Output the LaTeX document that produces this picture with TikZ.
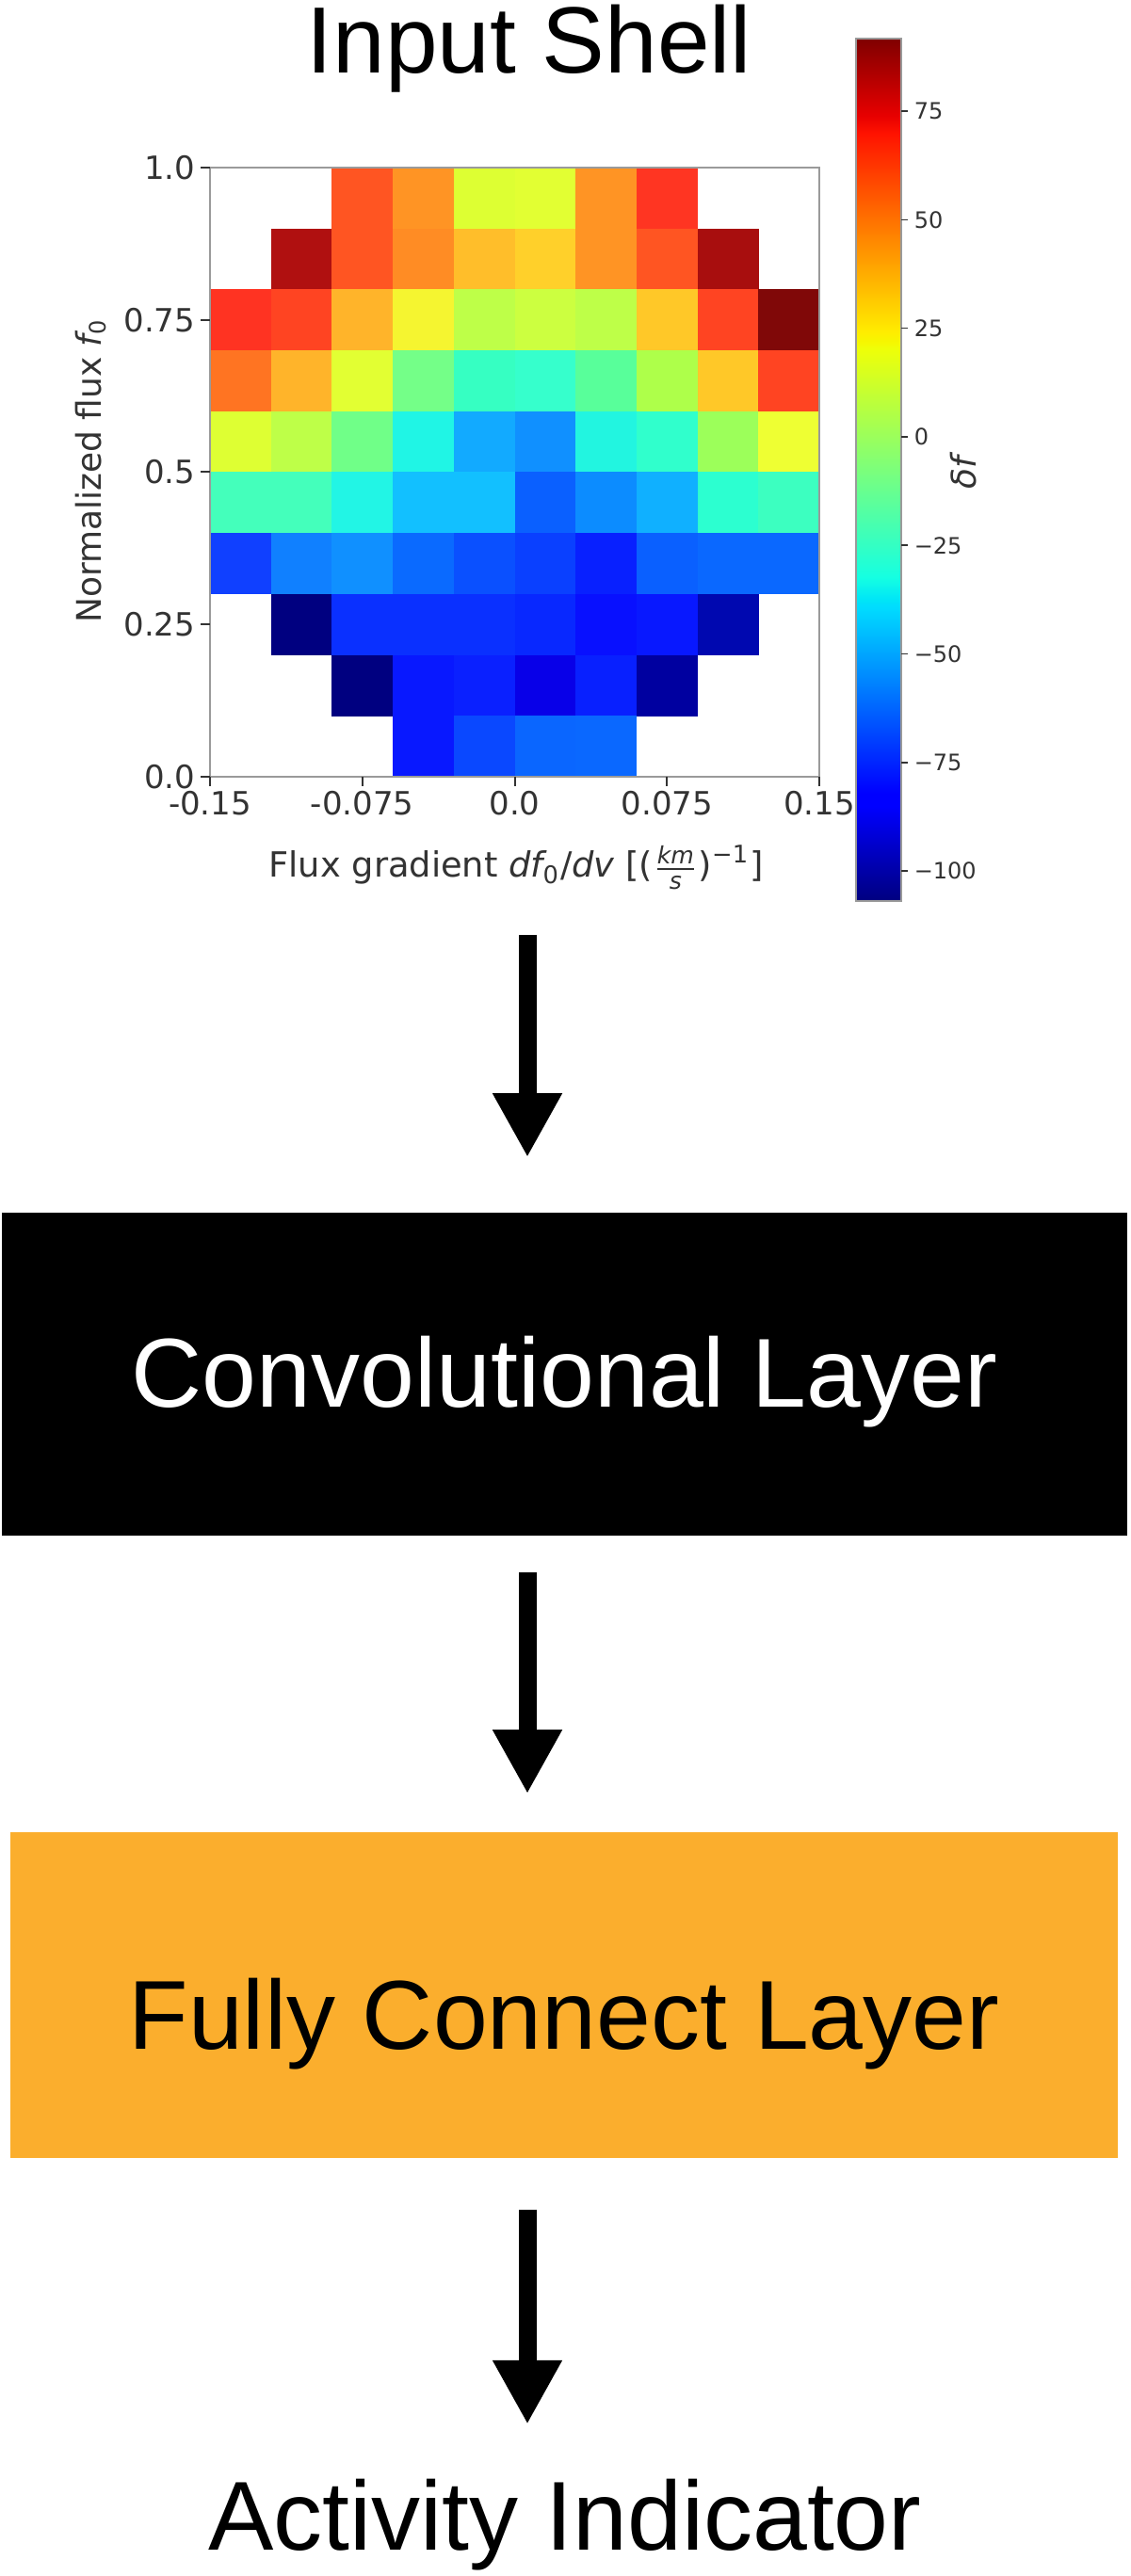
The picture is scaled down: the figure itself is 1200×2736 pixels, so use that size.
\documentclass[tikz,border=0pt]{standalone}
\usepackage{fontspec}
\setmainfont{Liberation Sans}
\newfontfamily\mpl{DejaVu Sans}
\usetikzlibrary{arrows.meta}

\definecolor{j0}{rgb}{0,0,0.5}
\definecolor{j1}{rgb}{0,0,1}
\definecolor{j2}{rgb}{0,0,1}
\definecolor{j3}{rgb}{0,0.86,1}
\definecolor{j4}{rgb}{0,0.9,0.968}
\definecolor{j5}{rgb}{0.081,1,0.887}
\definecolor{j6}{rgb}{0.935,1,0.032}
\definecolor{j7}{rgb}{0.968,0.963,0}
\definecolor{j8}{rgb}{1,0.926,0}
\definecolor{j9}{rgb}{1,0.074,0}
\definecolor{j10}{rgb}{0.909,0,0}
\definecolor{j11}{rgb}{0.5,0,0}
\pgfdeclareverticalshading{jetcb}{100bp}{color(0bp)=(j0); color(25bp)=(j0);
 color(30.5bp)=(j1); color(31.25bp)=(j2); color(42bp)=(j3); color(42.5bp)=(j4);
 color(43.75bp)=(j5); color(57bp)=(j6); color(57.5bp)=(j7); color(58bp)=(j8);
 color(69.5bp)=(j9); color(70.5bp)=(j10); color(75bp)=(j11); color(100bp)=(j11)}

\definecolor{fcorange}{HTML}{FBAE2D}
\definecolor{spinegray}{HTML}{9A9A9A}
\definecolor{ticktext}{HTML}{333333}

\tikzset{
  arr/.style={line width=4.75pt, -{Triangle[width=17.25pt,length=17pt]}},
  ticklab/.style={font=\mpl\fontsize{8.5}{10}\selectfont, text=ticktext, inner sep=0pt},
  cblabstyle/.style={font=\mpl\fontsize{6}{7}\selectfont, text=ticktext, inner sep=0pt, anchor=west},
  tickmark/.style={draw=ticktext, line width=0.5pt},
  bigtext/.style={font=\fontsize{26}{31}\selectfont}
}

\begin{document}
\begin{tikzpicture}[x=0.25pt,y=-0.25pt]
\fill[white] (0,0) rectangle (1200,2736);
\useasboundingbox (0,0) rectangle (1200,2736);

% title
\node[anchor=base, inner sep=0pt, font=\fontsize{25}{30}\selectfont] (title) at (562,78) {Input Shell};

% heatmap cells
\foreach \c/\r/\h in {
 2/0/FF5522, 3/0/FF9424, 4/0/DDFF33, 5/0/E2FF33, 6/0/FF9424, 7/0/FF3522,
 1/1/B01010, 2/1/FF5522, 3/1/FF8C24, 4/1/FFBE2A, 5/1/FFD02A, 6/1/FF9424, 7/1/FF5522, 8/1/A80E0E,
 0/2/FF3322, 1/2/FF4422, 2/2/FFB42A, 3/2/F5F530, 4/2/BEFF48, 5/2/CCFF40, 6/2/BEFF48, 7/2/FFC828, 8/2/FF4422, 9/2/800808,
 0/3/FF7422, 1/3/FFB42A, 2/3/E2FF33, 3/3/74FF88, 4/3/36FFC2, 5/3/36FFCC, 6/3/58FF9A, 7/3/AEFF4A, 8/3/FFC828, 9/3/FF4422,
 0/4/DEFF33, 1/4/BEFF48, 2/4/70FF88, 3/4/20F5E5, 4/4/12AAFF, 5/4/1090FF, 6/4/22F5E0, 7/4/30FFCC, 8/4/9CFF5A, 9/4/EEFF33,
 0/5/44FFBB, 1/5/44FFBB, 2/5/22F5E5, 3/5/12C0FF, 4/5/12C0FF, 5/5/0A60FF, 6/5/0C8CFF, 7/5/10B0FF, 8/5/2CFFD0, 9/5/3CFFC0,
 0/6/1040FF, 1/6/1080FF, 2/6/1090FF, 3/6/0A6AFF, 4/6/0A50FF, 5/6/0A40FF, 6/6/0820FF, 7/6/0A60FF, 8/6/0A68FF, 9/6/0A68FF,
 1/7/000080, 2/7/0A30FF, 3/7/0A30FF, 4/7/0A30FF, 5/7/0828FF, 6/7/0810FF, 7/7/0818FF, 8/7/0008B0,
 2/8/000080, 3/8/0818FF, 4/8/0A20FF, 5/8/0800E8, 6/8/0820FF, 7/8/0000A0,
 3/9/0818FF, 4/9/0A48FF, 5/9/0A66FF, 6/9/0A68FF}
{
  \edef\tmpdef{\noexpand\definecolor{cellc}{HTML}{\h}}\tmpdef
  \fill[cellc] ({223+\c*64.7},{178+\r*64.7}) rectangle ++(65.2,65.2);
}

% axes frame
\draw[spinegray, line width=0.6pt] (223,178) rectangle (870,825);

% y ticks
\foreach \yy/\lab in {178/1.0, 339.75/0.75, 501.5/0.5, 663.25/0.25, 825/0.0}{
  \draw[tickmark] (213,\yy) -- (223,\yy);
  \node[ticklab, anchor=east] at (208,\yy) {\lab};
}
% x ticks
\foreach \xx/\lab in {223/-0.15, 384.75/-0.075, 546.5/0.0, 708.25/0.075, 870/0.15}{
  \draw[tickmark] (\xx,825) -- (\xx,835);
  \node[ticklab, anchor=north] at (\xx,839) {\lab};
}

% axis labels
\node[anchor=base, inner sep=0pt, font=\mpl\fontsize{9.2}{11}\selectfont, text=ticktext] (xlab) at (548,932)
 {Flux gradient {\itshape df}\textsubscript{0}/{\itshape dv} [(\(\frac{\mbox{\mpl\itshape\fontsize{6.3}{7}\selectfont km}}{\mbox{\mpl\itshape\fontsize{6.3}{7}\selectfont s}}\))\textsuperscript{−1}]};
\node[rotate=90, anchor=base, inner sep=0pt, font=\mpl\fontsize{9}{11}\selectfont, text=ticktext] (ylab) at (107,500)
 {Normalized flux {\itshape f}\textsubscript{0}};

% colorbar
\shade[shading=jetcb] (909,41) rectangle (957,957);
\draw[spinegray, line width=0.3pt] (909,41) rectangle (957,957);
\foreach \yy/\lab in {118/75, 233.4/50, 348.7/25, 464/0, 579.3/−25, 694.6/−50, 809.9/−75, 925.2/−100}{
  \draw[tickmark, line width=0.4pt] (957,\yy) -- (964,\yy);
  \node[cblabstyle] at (970,\yy) {\lab};
}
\node[rotate=90, inner sep=0pt, font=\mpl\itshape\fontsize{9}{11}\selectfont, text=ticktext] (cblab) at (1023,502) {δf};

% flow
\coordinate (a1) at (560,993);
\node[fill=black, text=white, bigtext, inner sep=0pt, minimum width=298.75pt, minimum height=85.75pt,
      text height=19pt, text depth=1.75pt] (conv) at (599.5,1459.5) {Convolutional Layer};
\node[fill=fcorange, text=black, bigtext, inner sep=0pt, minimum width=294pt, minimum height=86.5pt,
      text height=30pt, text depth=1.5pt] (fc) at (599,2119) {Fully Connect Layer};
\node[anchor=base, bigtext, inner sep=0pt] (act) at (600,2708) {Activity Indicator};

\draw[arr, shorten >=14.5pt] (a1) -- (a1 |- conv.north);
\draw[arr, shorten <=9.5pt, shorten >=10pt] (conv.south -| a1) -- (fc.north -| a1);
\draw[arr, shorten <=13.5pt, shorten >=14.25pt] (fc.south -| a1) -- (act.north -| a1);
\end{tikzpicture}
\end{document}
